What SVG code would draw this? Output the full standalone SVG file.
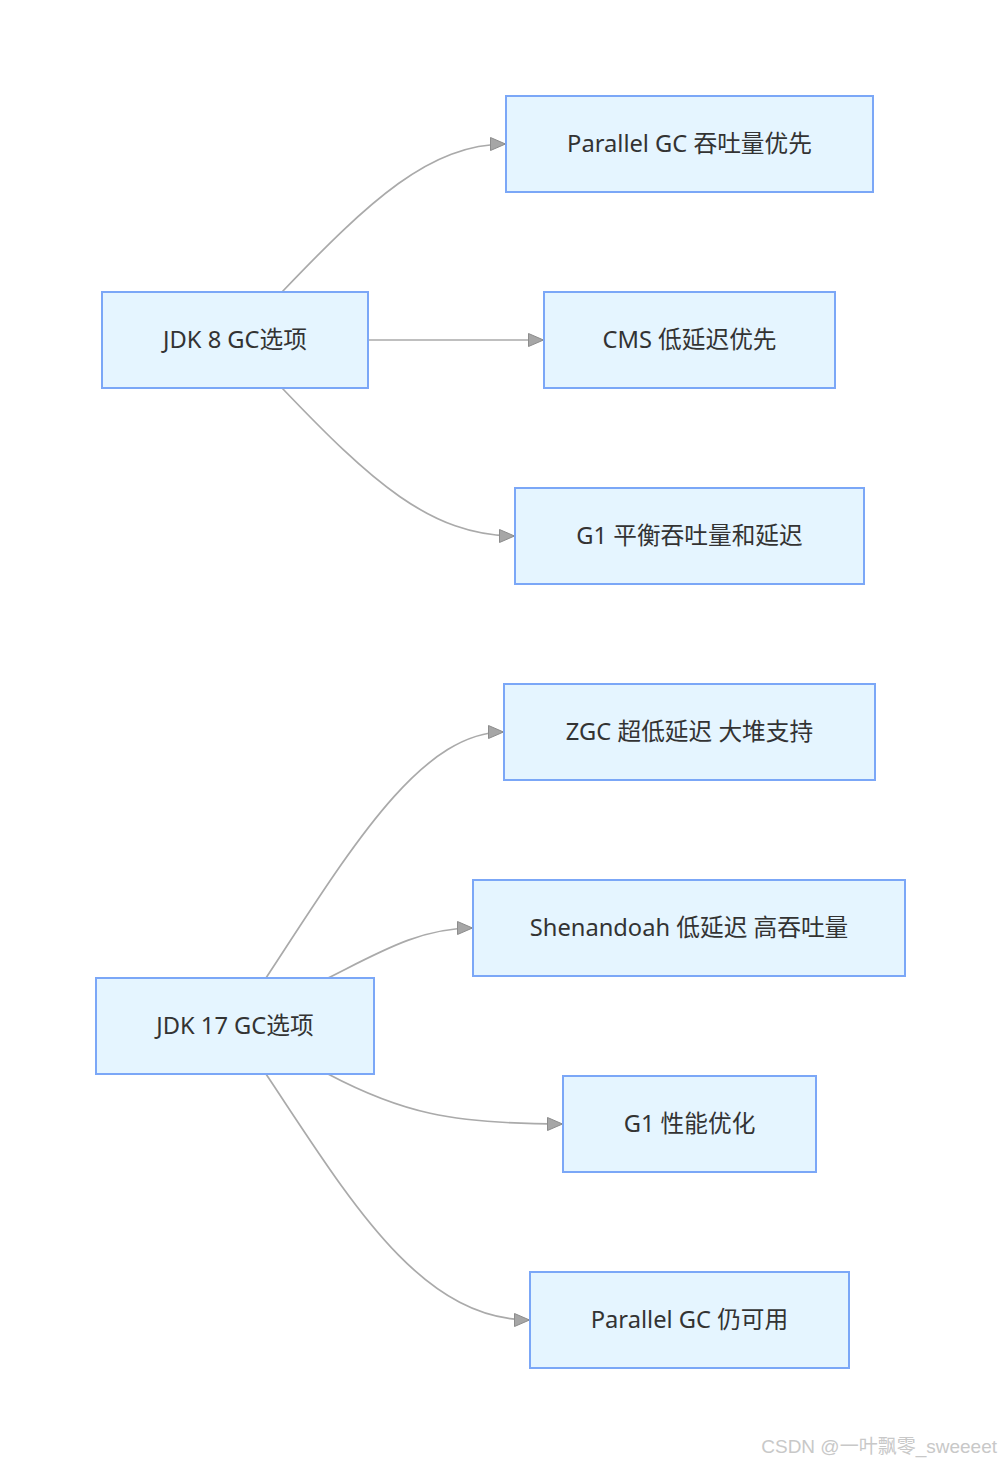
<svg xmlns="http://www.w3.org/2000/svg" width="1001" height="1464" viewBox="0 0 1001 1464">
<style>
.node rect{fill:#e5f5ff;stroke:#7ba7f7;stroke-width:2}
.node text{font-family:"Noto Sans","Noto Sans CJK SC",sans-serif;font-size:23.7px;fill:#333;text-anchor:middle;dominant-baseline:central}
.edge{fill:none;stroke:#aaaaaa;stroke-width:1.7;marker-end:url(#arrow)}
.wm{font-family:"Liberation Sans","Noto Sans CJK SC",sans-serif;font-size:19px;fill:#c8c8c8}
</style>
<defs>
<marker id="arrow" markerUnits="userSpaceOnUse" markerWidth="16" markerHeight="14" refX="16" refY="7" orient="auto" viewBox="0 0 16 14">
<path d="M0.5,0.5 L15.5,7 L0.5,13.5 z" fill="#a6a6a6" stroke="#8c8c8c" stroke-width="1"/>
</marker>
</defs>
<rect width="1001" height="1464" fill="#ffffff"/>
<g id="connectors">
<path class="edge" d="M282,292 C370,200 430,144 506,144"/>
<path class="edge" d="M368,340 L544,340"/>
<path class="edge" d="M282,388 C370,480 430,536 515,536"/>
<path class="edge" d="M266,978 C350,850 420,732 504,732"/>
<path class="edge" d="M328,978 C380,952 420,928 473,928"/>
<path class="edge" d="M328,1074 C400,1112 450,1124 563,1124"/>
<path class="edge" d="M266,1074 C350,1200 420,1320 530,1320"/>
</g>
<g id="jdk8" class="node"><rect x="102" y="292" width="266" height="96"/><text x="235" y="339">JDK 8 GC选项</text></g>
<g id="parallel8" class="node"><rect x="506" y="96" width="367" height="96"/><text x="689.5" y="143">Parallel GC 吞吐量优先</text></g>
<g id="cms" class="node"><rect x="544" y="292" width="291" height="96"/><text x="689.5" y="339">CMS 低延迟优先</text></g>
<g id="g1_8" class="node"><rect x="515" y="488" width="349" height="96"/><text x="689.5" y="535">G1 平衡吞吐量和延迟</text></g>
<g id="jdk17" class="node"><rect x="96" y="978" width="278" height="96"/><text x="235" y="1025">JDK 17 GC选项</text></g>
<g id="zgc" class="node"><rect x="504" y="684" width="371" height="96"/><text x="689.5" y="731">ZGC 超低延迟 大堆支持</text></g>
<g id="shenandoah" class="node"><rect x="473" y="880" width="432" height="96"/><text x="689" y="927">Shenandoah 低延迟 高吞吐量</text></g>
<g id="g1_17" class="node"><rect x="563" y="1076" width="253" height="96"/><text x="689.5" y="1123">G1 性能优化</text></g>
<g id="parallel17" class="node"><rect x="530" y="1272" width="319" height="96"/><text x="689.5" y="1319">Parallel GC 仍可用</text></g>
<text class="wm" x="997" y="1453" text-anchor="end">CSDN @一叶飘零_sweeeet</text>
</svg>
